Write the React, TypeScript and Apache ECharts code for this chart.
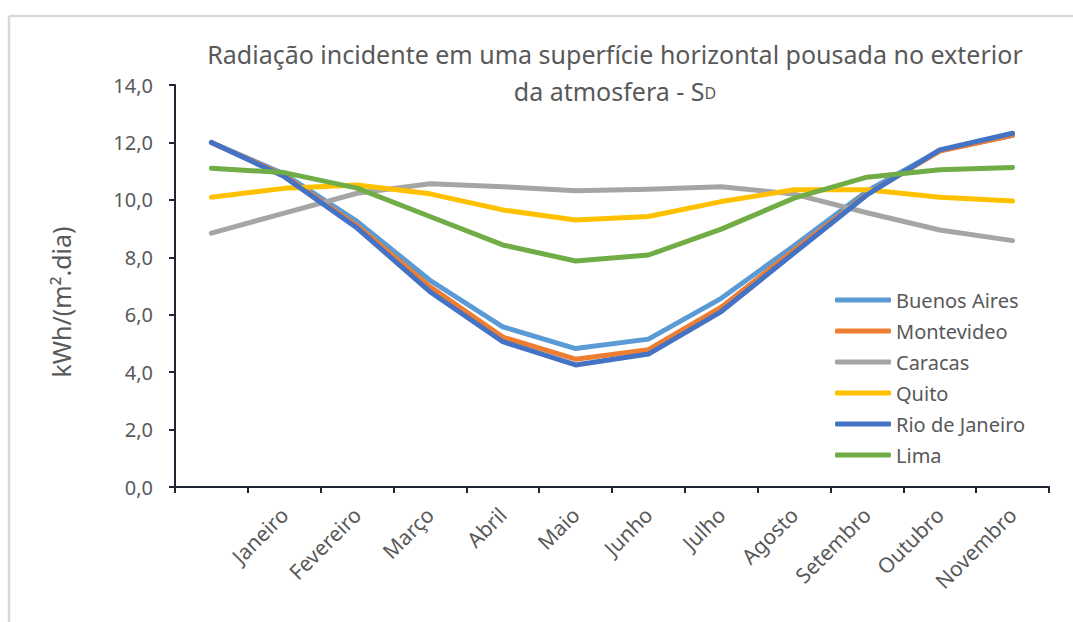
import React, { useEffect, useRef } from "react";
import * as echarts from "echarts";

const months = ["", "Janeiro", "Fevereiro", "Março", "Abril", "Maio", "Junho", "Julho", "Agosto", "Setembro", "Outubro", "Novembro"];
const buenosAires = [12.0, 10.9, 9.25, 7.2, 5.58, 4.82, 5.15, 6.57, 8.4, 10.3, 11.72, 12.25];
const montevideo = [12.0, 10.85, 9.1, 6.98, 5.22, 4.45, 4.78, 6.26, 8.25, 10.2, 11.7, 12.25];
const caracas = [8.84, 9.54, 10.23, 10.56, 10.46, 10.32, 10.37, 10.46, 10.2, 9.55, 8.95, 8.58];
const quito = [10.09, 10.4, 10.52, 10.21, 9.65, 9.3, 9.42, 9.94, 10.35, 10.35, 10.09, 9.96];
const rio = [12.0, 10.81, 9.02, 6.8, 5.06, 4.25, 4.63, 6.11, 8.15, 10.17, 11.74, 12.32];
const lima = [11.1, 10.95, 10.41, 9.42, 8.43, 7.87, 8.08, 8.98, 10.06, 10.79, 11.05, 11.13];

const seriesNames = ["Buenos Aires", "Montevideo", "Caracas", "Quito", "Rio de Janeiro", "Lima"];
const seriesData = [buenosAires, montevideo, caracas, quito, rio, lima];
const seriesColors = ["#5B9BD5", "#ED7D31", "#A5A5A5", "#FFC000", "#4472C4", "#70AD47"];

const FONT = "'Noto Sans', sans-serif";
const TXT = "#595959";
const AXIS = "#1f2533";

export default function App() {
  const ref = useRef<HTMLDivElement>(null);
  useEffect(() => {
    document.body.style.margin = "0";
    const chart = echarts.init(ref.current!, null, { renderer: "svg" });
    chart.setOption({
      animation: false,
      backgroundColor: "#ffffff",
      textStyle: { fontFamily: FONT, color: TXT },
      title: {
        text: "Radiação incidente em uma superfície horizontal pousada no exterior\nda atmosfera - S{sub|D}",
        left: 610,
        top: 30,
        textAlign: "center",
        textStyle: {
          fontFamily: FONT,
          fontSize: 25,
          fontWeight: "normal",
          color: TXT,
          lineHeight: 37,
          rich: {
            sub: {
              fontFamily: FONT,
              fontSize: 16,
              color: TXT,
              lineHeight: 16,
              verticalAlign: "bottom",
              padding: [0, 0, 8, 0],
            },
          },
        },
      },
      graphic: [
        { type: "line", shape: { x1: 9, y1: 16, x2: 1073, y2: 16 }, style: { stroke: "#d9d9d9", lineWidth: 2.5 } },
        { type: "line", shape: { x1: 9, y1: 16, x2: 9, y2: 622 }, style: { stroke: "#d9d9d9", lineWidth: 2.5 } },
      ],
      legend: {
        orient: "vertical",
        left: 830,
        top: 285,
        icon: "roundRect",
        itemWidth: 56,
        itemHeight: 5,
        itemGap: 11,
        textStyle: { fontFamily: FONT, fontSize: 20, color: TXT },
        data: seriesNames,
      },
      grid: { left: 175, right: 24, top: 85, bottom: 135, containLabel: false },
      xAxis: {
        type: "category",
        data: months,
        boundaryGap: true,
        axisLine: { show: true, lineStyle: { color: AXIS, width: 2 } },
        axisTick: { show: true, length: 6, lineStyle: { color: AXIS, width: 2 } },
        axisLabel: { interval: 0, rotate: 45, margin: 24, fontFamily: FONT, fontSize: 21, color: TXT },
        splitLine: { show: false },
      },
      yAxis: {
        type: "value",
        min: 0,
        max: 14,
        interval: 2,
        name: "kWh/(m².dia)",
        nameLocation: "middle",
        nameGap: 102,
        nameTextStyle: { fontFamily: FONT, fontSize: 25, color: TXT, padding: [0, 32, 0, 0] },
        axisLine: { show: true, lineStyle: { color: AXIS, width: 2 } },
        axisTick: { show: true, length: 6, lineStyle: { color: AXIS, width: 2 } },
        axisLabel: {
          margin: 22,
          fontFamily: FONT,
          fontSize: 20,
          color: TXT,
          formatter: (v: number) => v.toFixed(1).replace(".", ","),
        },
        splitLine: { show: false },
      },
      series: seriesNames.map((name, i) => ({
        name,
        type: "line",
        data: seriesData[i],
        symbol: "none",
        lineStyle: { width: 5, color: seriesColors[i], cap: "round", join: "round" },
        itemStyle: { color: seriesColors[i] },
      })),
    });
    return () => chart.dispose();
  }, []);
  return <div ref={ref} style={{ width: 1073, height: 622 }} />;
}
